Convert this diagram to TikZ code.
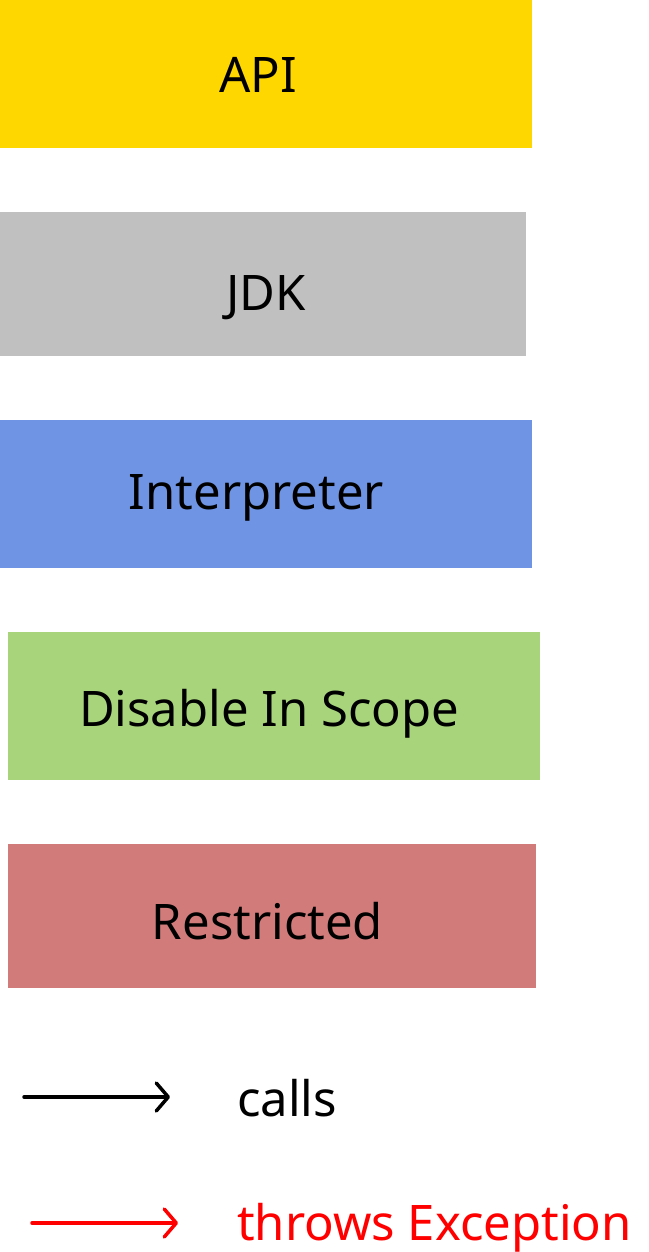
\documentclass[tikz,border=0pt]{standalone}
\usepackage{fontspec}
\setmainfont{Noto Sans}
\usetikzlibrary{arrows.meta}
\definecolor{apiyellow}{HTML}{FFD700}
\definecolor{jdkgray}{HTML}{C0C0C0}
\definecolor{interpblue}{HTML}{7094E4}
\definecolor{scopegreen}{HTML}{A8D47C}
\definecolor{restrred}{HTML}{D27B7B}
\definecolor{excred}{HTML}{FF0000}
\tikzset{
  layerbox/.style={draw=none, rectangle, inner sep=0pt, anchor=north west},
  lbl/.style={inner sep=0pt, anchor=base, font=\fontsize{49}{57}\selectfont},
  legendarrow/.style={line width=3.5pt, line cap=round, -{Straight Barb[length=12pt,width=28pt,line width=3.5pt,round]}},
}
\begin{document}
\begin{tikzpicture}[x=1pt,y=-1pt]
\useasboundingbox (0,0) rectangle (648,1252);
\node[layerbox, fill=apiyellow, minimum width=532pt, minimum height=148pt] (api) at (0,0) {};
\node[layerbox, fill=jdkgray, minimum width=526pt, minimum height=144pt] (jdk) at (0,212) {};
\node[layerbox, fill=interpblue, minimum width=532pt, minimum height=148pt] (interp) at (0,420) {};
\node[layerbox, fill=scopegreen, minimum width=532pt, minimum height=148pt] (scope) at (8,632) {};
\node[layerbox, fill=restrred, minimum width=528pt, minimum height=144pt] (restr) at (8,844) {};
\node[lbl] (apit) at (258,93) {API};
\node[lbl] (jdkt) at (266,310) {JDK};
\node[lbl] (interpt) at (256.5,509) {Interpreter};
\node[lbl] (scopet) at (269,726) {Disable In Scope};
\node[lbl] (restrt) at (267.5,939) {Restricted};
\coordinate (c1) at (24,1097);
\coordinate (c2) at (170,1097);
\coordinate (e1) at (32,1223);
\coordinate (e2) at (178,1223);
\draw[legendarrow] (c1) -- (c2);
\draw[legendarrow, excred] (e1) -- (e2);
\node[lbl, anchor=base west] (callst) at (237,1116) {calls};
\node[lbl, anchor=base west, text=excred] (exct) at (237,1240) {throws Exception};
\end{tikzpicture}
\end{document}
